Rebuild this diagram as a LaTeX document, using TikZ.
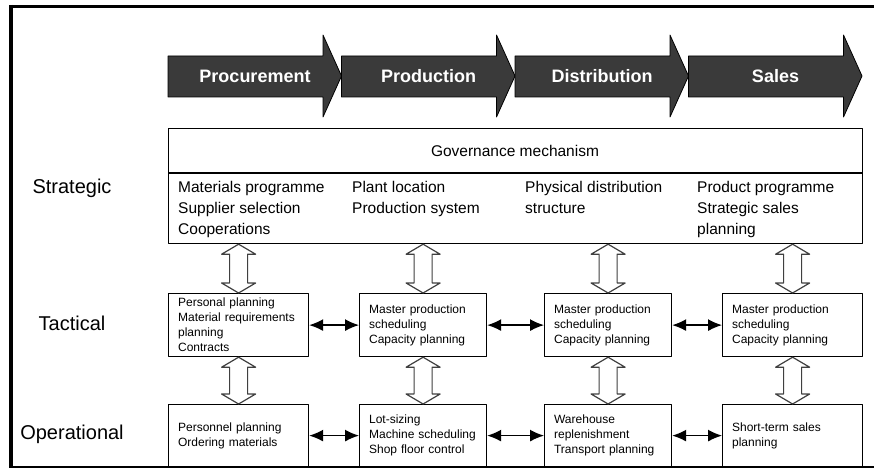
\documentclass[tikz,border=0pt]{standalone}
\usepackage{fontspec}
\setmainfont{Liberation Sans}
\usetikzlibrary{arrows.meta,calc}
\definecolor{phasegray}{HTML}{3A3A3A}

% hollow double arrow between two levels
\newcommand\updown[2]{\draw[hollow] let \p1=#1, \p2=#2 in (\x1,\y1) -- ++(17pt,-10pt) -- ++(-8pt,0pt) -- (\x1+9pt,\y2+10pt) -- ++(8pt,0pt) -- (\x1,\y2) -- ++(-17pt,10pt) -- ++(8pt,0pt) -- (\x1-9pt,\y1-10pt) -- ++(-8pt,0pt) -- cycle;}

\begin{document}
\begin{tikzpicture}[x=1pt, y=-1pt, line join=round, >={Latex[length=14pt,width=12pt]},
	phase/.style={fill=phasegray, draw=black, line width=0.8},
	phasetext/.style={text=white, font=\fontsize{18}{20}\selectfont\bfseries},
	level/.style={font=\fontsize{20}{24}\selectfont},
	colt/.style={font=\fontsize{15.5}{21}\selectfont, align=left, anchor=north west, inner sep=0},
	box/.style={draw, line width=1.2, anchor=north west, inner xsep=9, inner ysep=0, align=left, font=\fontsize{12}{15}\selectfont},
	widebox/.style={box, minimum width=140, text width=121},
	narrowbox/.style={box, minimum width=127, text width=108},
	hollow/.style={draw=black!75, line width=1.2, fill=white},
	link/.style={<->, line width=1.3}]
	\useasboundingbox (0,0) rectangle (874,468);
	\draw[line width=3] (10.5,6.5) -- (874,6.5);
	\draw[line width=4] (10.5,5) -- (10.5,468);
	\draw[line width=2] (10.5,467) -- (874,467);
	
	\foreach \x/\name/\txt in {168/proc/Procurement, 341.5/prod/Production, 515/dist/Distribution, 688.5/sale/Sales}{
		\filldraw[phase] (\x,56) -- (\x+155,56) -- (\x+155,35) -- (\x+173.5,76) -- (\x+155,117) -- (\x+155,97) -- (\x,97) -- cycle;
		\node[phasetext] (\name) at (\x+87,76) {\txt};
	}
	
	\node[draw, line width=1.2, anchor=north west, minimum width=694, minimum height=115] (strat) at (168,128) {};
	\draw[line width=1.2] (strat.west |- 0,173) -- (strat.east |- 0,173);
	\node[font=\fontsize{15.5}{18}\selectfont] (gov) at (515,151) {Governance mechanism};
	\node[colt] (sproc) at (178,181.5) {Materials programme\\Supplier selection\\Cooperations};
	\node[colt] (sprod) at (352,181.5) {Plant location\\Production system};
	\node[colt] (sdist) at (525,181.5) {Physical distribution\\structure};
	\node[colt] (ssale) at (697,181.5) {Product programme\\Strategic sales\\planning};
	
	\node[level] (strategic) at (72,188) {Strategic};
	\node[level] (tactical) at (72,323) {Tactical};
	\node[level] (operational) at (72,434) {Operational};
	
	\node[widebox, minimum height=63] (t1) at (168,293) {Personal planning\\Material requirements\\planning\\Contracts};
	\node[narrowbox, minimum height=63] (t2) at (359,293) {Master production\\scheduling\\Capacity planning};
	\node[narrowbox, minimum height=63] (t3) at (544,293) {Master production\\scheduling\\Capacity planning};
	\node[widebox, minimum height=63] (t4) at (722,293) {Master production\\scheduling\\Capacity planning};
	
	\node[widebox, minimum height=62] (o1) at (168,404) {Personnel planning\\Ordering materials};
	\node[narrowbox, minimum height=62] (o2) at (359,404) {Lot-sizing\\Machine scheduling\\Shop floor control};
	\node[narrowbox, minimum height=62] (o3) at (544,404) {Warehouse\\replenishment\\Transport planning};
	\node[widebox, minimum height=62] (o4) at (722,404) {Short-term sales\\planning};
	
	\draw[link] (t1) -- (t2);
	\draw[link] (t2) -- (t3);
	\draw[link] (t3) -- (t4);
	\draw[link] (o1) -- (o2);
	\draw[link] (o2) -- (o3);
	\draw[link] (o3) -- (o4);
	
	\foreach \c in {1,...,4}{
		\updown{(strat.south -| t\c.north)}{(t\c.north)}
		\updown{(t\c.south)}{(o\c.north)}
	}
\end{tikzpicture}
\end{document}
